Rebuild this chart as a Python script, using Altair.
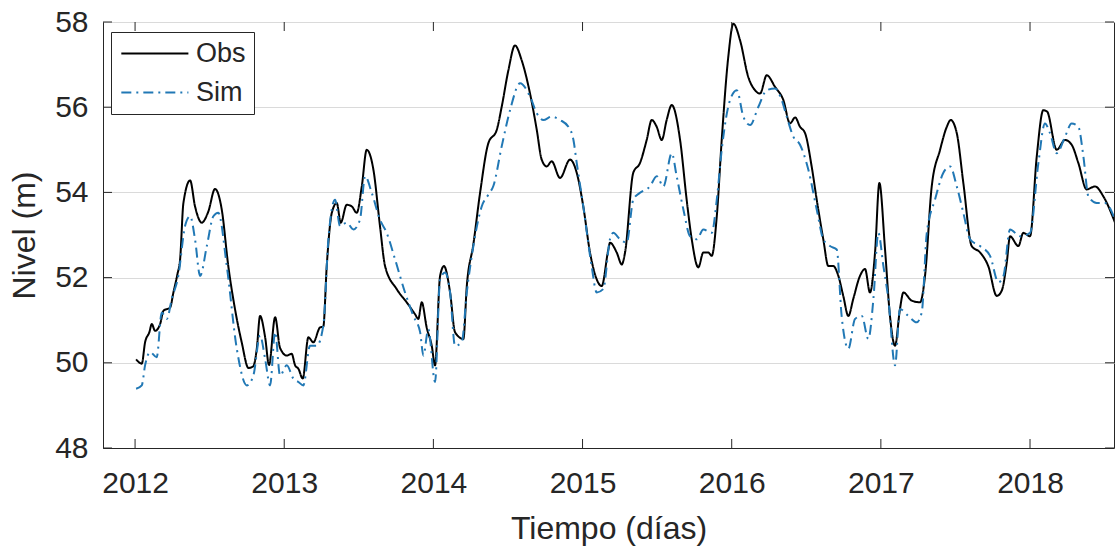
import altair as alt
import pandas as pd

# Observed water level (decimal year, metres)
obs_t = [2012.007, 2012.045, 2012.067, 2012.096, 2012.112, 2012.134, 2012.168, 2012.190, 2012.235, 2012.257,
         2012.284, 2012.302, 2012.324, 2012.369, 2012.402, 2012.447, 2012.491, 2012.536, 2012.581, 2012.625,
         2012.670, 2012.715, 2012.760, 2012.793, 2012.816, 2012.838, 2012.872, 2012.898, 2012.939, 2012.972,
         2013.017, 2013.050, 2013.073, 2013.095, 2013.124, 2013.162, 2013.195, 2013.240, 2013.262, 2013.285,
         2013.319, 2013.352, 2013.379, 2013.419, 2013.453, 2013.486, 2013.520, 2013.553, 2013.598, 2013.642,
         2013.676, 2013.754, 2013.821, 2013.877, 2013.899, 2013.922, 2013.955, 2013.989, 2014.011, 2014.045,
         2014.071, 2014.112, 2014.145, 2014.201, 2014.224, 2014.268, 2014.313, 2014.368, 2014.425, 2014.458,
         2014.503, 2014.547, 2014.592, 2014.648, 2014.693, 2014.726, 2014.760, 2014.793, 2014.849, 2014.916,
         2014.961, 2015.005, 2015.050, 2015.095, 2015.128, 2015.173, 2015.184, 2015.229, 2015.263, 2015.285,
         2015.340, 2015.385, 2015.430, 2015.464, 2015.497, 2015.531, 2015.564, 2015.598, 2015.654, 2015.698,
         2015.732, 2015.776, 2015.810, 2015.843, 2015.866, 2015.900, 2015.933, 2015.977, 2016.011, 2016.056,
         2016.111, 2016.156, 2016.190, 2016.235, 2016.290, 2016.346, 2016.391, 2016.425, 2016.458, 2016.492,
         2016.536, 2016.570, 2016.614, 2016.648, 2016.681, 2016.715, 2016.748, 2016.782, 2016.815, 2016.860,
         2016.894, 2016.927, 2016.961, 2016.990, 2017.028, 2017.061, 2017.095, 2017.128, 2017.151, 2017.207,
         2017.263, 2017.296, 2017.341, 2017.397, 2017.442, 2017.468, 2017.509, 2017.553, 2017.609, 2017.665,
         2017.720, 2017.777, 2017.810, 2017.844, 2017.866, 2017.922, 2017.955, 2018.000, 2018.045, 2018.089,
         2018.114, 2018.179, 2018.234, 2018.279, 2018.324, 2018.380, 2018.436, 2018.491, 2018.570]
obs_nivel = [50.08, 49.98, 50.48, 50.72, 50.91, 50.75, 50.91, 51.22, 51.30, 51.65,
             52.08, 52.43, 53.75, 54.28, 53.67, 53.29, 53.55, 54.08, 53.60, 52.27,
             51.26, 50.48, 49.88, 49.92, 50.33, 51.10, 50.60, 49.95, 51.07, 50.35,
             50.17, 50.21, 49.94, 49.86, 49.63, 50.60, 50.48, 50.83, 50.85, 52.27,
             53.52, 53.75, 53.29, 53.71, 53.67, 53.52, 54.14, 55.00, 54.53, 53.21,
             52.27, 51.73, 51.42, 51.14, 51.03, 51.42, 50.83, 50.40, 49.94, 52.04,
             52.27, 51.65, 50.72, 50.56, 51.80, 52.78, 53.99, 55.15, 55.47, 56.01,
             56.87, 57.45, 57.10, 56.32, 55.47, 54.77, 54.61, 54.73, 54.34, 54.77,
             54.46, 53.67, 52.59, 51.96, 51.80, 52.66, 52.82, 52.59, 52.31, 52.59,
             54.46, 54.69, 55.23, 55.70, 55.54, 55.23, 55.70, 56.05, 55.23, 53.83,
             52.90, 52.24, 52.59, 52.59, 52.51, 53.44, 55.23, 57.18, 57.96, 57.57,
             56.71, 56.40, 56.32, 56.75, 56.48, 56.17, 55.62, 55.76, 55.54, 55.39,
             54.61, 53.83, 52.90, 52.27, 52.27, 52.04, 51.57, 51.10, 51.50, 52.04,
             52.20, 51.65, 52.59, 54.22, 52.66, 51.10, 50.40, 51.26, 51.65, 51.46,
             51.42, 52.04, 54.14, 55.00, 55.54, 55.70, 55.39, 54.22, 52.74, 52.59,
             52.27, 51.57, 51.69, 52.35, 52.97, 52.74, 53.05, 52.97, 54.84, 55.93,
             55.90, 55.00, 55.23, 55.12, 54.69, 54.07, 54.14, 53.91, 53.29]

# Simulated water level (decimal year, metres)
sim_t = [2012.007, 2012.045, 2012.067, 2012.101, 2012.145, 2012.179, 2012.213, 2012.246, 2012.290, 2012.335,
         2012.369, 2012.402, 2012.436, 2012.481, 2012.525, 2012.558, 2012.615, 2012.682, 2012.749, 2012.793,
         2012.838, 2012.872, 2012.905, 2012.939, 2012.972, 2013.017, 2013.061, 2013.095, 2013.128, 2013.173,
         2013.218, 2013.262, 2013.296, 2013.341, 2013.374, 2013.419, 2013.464, 2013.508, 2013.542, 2013.587,
         2013.642, 2013.687, 2013.743, 2013.810, 2013.866, 2013.911, 2013.933, 2013.966, 2014.011, 2014.045,
         2014.078, 2014.112, 2014.145, 2014.190, 2014.224, 2014.268, 2014.324, 2014.369, 2014.402, 2014.458,
         2014.514, 2014.581, 2014.648, 2014.693, 2014.737, 2014.793, 2014.849, 2014.905, 2014.939, 2014.961,
         2015.005, 2015.061, 2015.095, 2015.139, 2015.184, 2015.206, 2015.251, 2015.296, 2015.340, 2015.385,
         2015.452, 2015.497, 2015.542, 2015.598, 2015.631, 2015.676, 2015.721, 2015.766, 2015.810, 2015.866,
         2015.900, 2015.933, 2015.989, 2016.034, 2016.078, 2016.123, 2016.179, 2016.235, 2016.290, 2016.335,
         2016.369, 2016.413, 2016.458, 2016.514, 2016.570, 2016.614, 2016.659, 2016.704, 2016.737, 2016.782,
         2016.827, 2016.872, 2016.916, 2016.950, 2016.983, 2017.017, 2017.050, 2017.095, 2017.128, 2017.184,
         2017.240, 2017.274, 2017.308, 2017.363, 2017.419, 2017.464, 2017.509, 2017.553, 2017.598, 2017.665,
         2017.732, 2017.788, 2017.822, 2017.866, 2017.933, 2018.000, 2018.056, 2018.100, 2018.134, 2018.179,
         2018.235, 2018.279, 2018.324, 2018.358, 2018.391, 2018.447, 2018.503, 2018.570]
sim_nivel = [49.39, 49.47, 49.94, 50.25, 50.13, 51.18, 51.03, 51.50, 52.04, 53.21,
             53.44, 52.90, 52.04, 52.74, 53.44, 53.52, 52.27, 50.33, 49.47, 49.70,
             50.64, 50.09, 49.47, 50.72, 49.70, 49.94, 49.63, 49.55, 49.47, 50.40,
             50.40, 50.87, 52.90, 53.83, 53.21, 53.29, 53.13, 53.36, 54.38, 53.99,
             53.36, 53.05, 52.43, 51.65, 51.10, 50.72, 50.17, 50.79, 49.55, 51.96,
             52.12, 51.65, 50.40, 50.48, 51.65, 52.74, 53.67, 53.95, 54.15, 55.08,
             55.93, 56.56, 56.25, 55.86, 55.70, 55.78, 55.70, 55.54, 55.23, 54.69,
             53.67, 52.27, 51.65, 51.73, 52.90, 53.05, 52.90, 52.82, 53.83, 53.99,
             54.14, 54.38, 54.14, 54.92, 54.38, 53.60, 52.97, 52.90, 53.13, 53.05,
             53.83, 55.00, 56.17, 56.40, 55.78, 55.58, 56.01, 56.40, 56.44, 56.17,
             55.78, 55.31, 55.12, 54.53, 53.60, 52.90, 52.74, 52.66, 51.10, 50.33,
             51.03, 51.10, 50.56, 51.50, 53.05, 52.27, 51.50, 49.94, 51.26, 51.10,
             50.95, 51.18, 53.05, 53.83, 54.46, 54.61, 54.14, 53.52, 52.90, 52.74,
             52.51, 51.89, 52.04, 53.13, 52.97, 53.05, 54.69, 55.62, 55.39, 54.92,
             55.31, 55.62, 55.54, 54.84, 53.91, 53.75, 53.75, 53.36]

series_names = ["Obs", "Sim"]
series_colors = ["#000000", "#2178b5"]
series_dashes = [[1, 0], [10, 5, 2, 5]]

x_ticks = [2012, 2013, 2014, 2015, 2016, 2017, 2018]
y_ticks = [48, 50, 52, 54, 56, 58]
x_domain = [2011.785, 2018.563]
y_domain = [48, 58]

W, H = 1011, 426
FONT = "Liberation Sans"
INK = "#262626"
TICK_LEN = 9

df = pd.concat([
    pd.DataFrame({"t": obs_t, "nivel": obs_nivel, "serie": "Obs"}),
    pd.DataFrame({"t": sim_t, "nivel": sim_nivel, "serie": "Sim"}),
], ignore_index=True)

x_scale = alt.Scale(domain=x_domain, nice=False, zero=False)
y_scale = alt.Scale(domain=y_domain, nice=False, zero=False)

x_axis = alt.Axis(values=x_ticks, format="d", grid=False, tickSize=0,
                  labelFontSize=30, labelPadding=20, labelColor=INK,
                  domainColor=INK, title="Tiempo (días)", titleFontSize=32,
                  titleFontWeight="normal", titleColor=INK, titlePadding=15)
y_axis = alt.Axis(values=y_ticks, grid=True, gridColor="#dadada", tickSize=0,
                  labelFontSize=30, labelPadding=15, labelColor=INK,
                  domainColor=INK, title="Nivel (m)", titleFontSize=32,
                  titleFontWeight="normal", titleColor=INK, titlePadding=13)

legend = alt.Legend(orient="none", legendX=8, legendY=10, title=None,
                    symbolType="M-1,0H5", symbolSize=500, symbolStrokeWidth=2,
                    labelFontSize=27, labelFont=FONT, labelColor=INK, labelOffset=50,
                    padding=8, rowPadding=11, strokeColor=INK, fillColor="white",
                    cornerRadius=0)

lines = alt.Chart(df).mark_line(strokeWidth=2, clip=True, interpolate="monotone").encode(
    x=alt.X("t:Q", scale=x_scale, axis=x_axis),
    y=alt.Y("nivel:Q", scale=y_scale, axis=y_axis),
    color=alt.Color("serie:N", scale=alt.Scale(domain=series_names, range=series_colors), legend=legend),
    strokeDash=alt.StrokeDash("serie:N", scale=alt.Scale(domain=series_names, range=series_dashes), legend=legend),
)

# Inward tick marks on all four sides of the box
xt = pd.DataFrame({"t": x_ticks})
yt = pd.DataFrame({"nivel": y_ticks})
tick_style = dict(color=INK, strokeWidth=1)
x_bottom = alt.Chart(xt).mark_rule(**tick_style).encode(
    x=alt.X("t:Q", scale=x_scale), y=alt.value(H), y2=alt.value(H - TICK_LEN))
x_top = alt.Chart(xt).mark_rule(**tick_style).encode(
    x=alt.X("t:Q", scale=x_scale), y=alt.value(0), y2=alt.value(TICK_LEN))
y_left = alt.Chart(yt).mark_rule(**tick_style).encode(
    y=alt.Y("nivel:Q", scale=y_scale), x=alt.value(0), x2=alt.value(TICK_LEN))
y_right = alt.Chart(yt).mark_rule(**tick_style).encode(
    y=alt.Y("nivel:Q", scale=y_scale), x=alt.value(W), x2=alt.value(W - TICK_LEN))

chart = alt.layer(lines, x_bottom, x_top, y_left, y_right).properties(
    width=W, height=H,
    autosize=alt.AutoSizeParams(type="none"),
    padding={"left": 103, "top": 22, "right": 1, "bottom": 99},
    background="white",
).configure_view(
    stroke=INK, strokeWidth=1
).configure_axis(
    labelFont=FONT, titleFont=FONT
)

chart.save("out.html", embed_options={"renderer": "svg", "actions": False})
